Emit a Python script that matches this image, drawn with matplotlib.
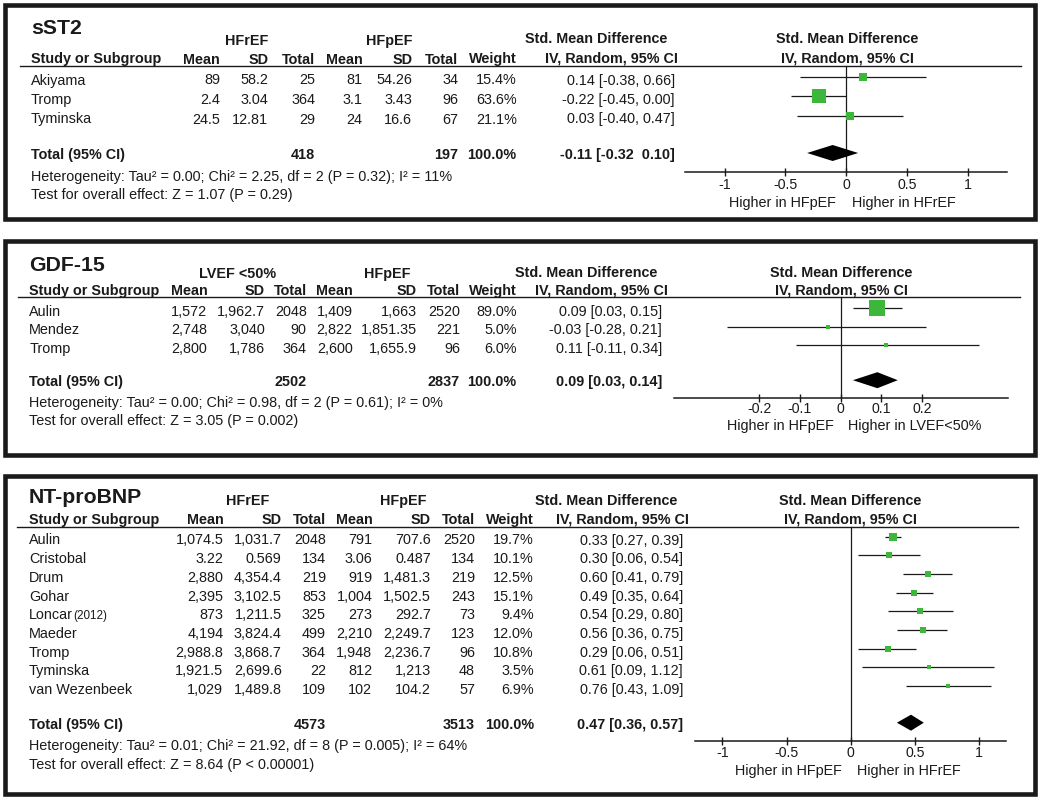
import numpy as np
import matplotlib
matplotlib.use('Agg')
import matplotlib.pyplot as plt
from matplotlib.patches import Rectangle

plt.rcParams['font.family'] = ['Liberation Sans', 'DejaVu Sans']

# ---------------- data: sST2 ----------------
sst2_studies = ['Akiyama', 'Tromp', 'Tyminska']
sst2_mean1 = ['89', '2.4', '24.5']
sst2_sd1 = ['58.2', '3.04', '12.81']
sst2_n1 = [25, 364, 29]
sst2_mean2 = ['81', '3.1', '24']
sst2_sd2 = ['54.26', '3.43', '16.6']
sst2_n2 = [34, 96, 67]
sst2_weight = [15.4, 63.6, 21.1]
sst2_smd = [0.14, -0.22, 0.03]
sst2_lo = [-0.38, -0.45, -0.40]
sst2_hi = [0.66, 0.00, 0.47]
sst2_total = (418, 197, -0.11, -0.32, 0.10)
sst2_total_fmt = '{:.2f} [{:.2f}  {:.2f}]'
sst2_groups = ['HFrEF', 'HFpEF']
sst2_favours = ['Higher in HFpEF', 'Higher in HFrEF']
sst2_het = 'Heterogeneity: Tau² = 0.00; Chi² = 2.25, df = 2 (P = 0.32); I² = 11%'
sst2_test = 'Test for overall effect: Z = 1.07 (P = 0.29)'
sst2_ticks = [-1, -0.5, 0, 0.5, 1]
sst2_ticklabels = ['-1', '-0.5', '0', '0.5', '1']

# ---------------- data: GDF-15 ----------------
gdf_studies = ['Aulin', 'Mendez', 'Tromp']
gdf_mean1 = ['1,572', '2,748', '2,800']
gdf_sd1 = ['1,962.7', '3,040', '1,786']
gdf_n1 = [2048, 90, 364]
gdf_mean2 = ['1,409', '2,822', '2,600']
gdf_sd2 = ['1,663', '1,851.35', '1,655.9']
gdf_n2 = [2520, 221, 96]
gdf_weight = [89.0, 5.0, 6.0]
gdf_smd = [0.09, -0.03, 0.11]
gdf_lo = [0.03, -0.28, -0.11]
gdf_hi = [0.15, 0.21, 0.34]
gdf_total = (2502, 2837, 0.09, 0.03, 0.14)
gdf_total_fmt = '{:.2f} [{:.2f}, {:.2f}]'
gdf_groups = ['LVEF <50%', 'HFpEF']
gdf_favours = ['Higher in HFpEF', 'Higher in LVEF<50%']
gdf_het = 'Heterogeneity: Tau² = 0.00; Chi² = 0.98, df = 2 (P = 0.61); I² = 0%'
gdf_test = 'Test for overall effect: Z = 3.05 (P = 0.002)'
gdf_ticks = [-0.2, -0.1, 0, 0.1, 0.2]
gdf_ticklabels = ['-0.2', '-0.1', '0', '0.1', '0.2']

# ---------------- data: NT-proBNP ----------------
nt_studies = ['Aulin', 'Cristobal', 'Drum', 'Gohar', 'Loncar', 'Maeder',
              'Tromp', 'Tyminska', 'van Wezenbeek']
nt_notes = {'Loncar': '(2012)'}
nt_mean1 = ['1,074.5', '3.22', '2,880', '2,395', '873', '4,194', '2,988.8', '1,921.5', '1,029']
nt_sd1 = ['1,031.7', '0.569', '4,354.4', '3,102.5', '1,211.5', '3,824.4', '3,868.7', '2,699.6', '1,489.8']
nt_n1 = [2048, 134, 219, 853, 325, 499, 364, 22, 109]
nt_mean2 = ['791', '3.06', '919', '1,004', '273', '2,210', '1,948', '812', '102']
nt_sd2 = ['707.6', '0.487', '1,481.3', '1,502.5', '292.7', '2,249.7', '2,236.7', '1,213', '104.2']
nt_n2 = [2520, 134, 219, 243, 73, 123, 96, 48, 57]
nt_weight = [19.7, 10.1, 12.5, 15.1, 9.4, 12.0, 10.8, 3.5, 6.9]
nt_smd = [0.33, 0.30, 0.60, 0.49, 0.54, 0.56, 0.29, 0.61, 0.76]
nt_lo = [0.27, 0.06, 0.41, 0.35, 0.29, 0.36, 0.06, 0.09, 0.43]
nt_hi = [0.39, 0.54, 0.79, 0.64, 0.80, 0.75, 0.51, 1.12, 1.09]
nt_total = (4573, 3513, 0.47, 0.36, 0.57)
nt_total_fmt = '{:.2f} [{:.2f}, {:.2f}]'
nt_groups = ['HFrEF', 'HFpEF']
nt_favours = ['Higher in HFpEF', 'Higher in HFrEF']
nt_het = 'Heterogeneity: Tau² = 0.01; Chi² = 21.92, df = 8 (P = 0.005); I² = 64%'
nt_test = 'Test for overall effect: Z = 8.64 (P < 0.00001)'
nt_ticks = [-1, -0.5, 0, 0.5, 1]
nt_ticklabels = ['-1', '-0.5', '0', '0.5', '1']

col_heads = ['Mean', 'SD', 'Total', 'Mean', 'SD', 'Total', 'Weight']

INK = '#1a1a1a'
GREEN = '#3cb73c'
FS = 10.4
W, H = 1040, 800

fig = plt.figure(figsize=(W / 100, H / 100), dpi=100)
bg = fig.add_axes([0, 0, 1, 1])
bg.set_xlim(0, W)
bg.set_ylim(H, 0)
bg.axis('off')


def put(x, y, s, ha='left', bold=False, size=FS):
    # y is the visual middle of capitals, converted to baseline
    return bg.text(x, y + 0.5 * size, s, ha=ha, va='baseline', fontsize=size,
                   fontweight='bold' if bold else 'normal', color=INK)


def draw_panel(title, studies, mean1, sd1, n1, mean2, sd2, n2, weight, smd, lo, hi,
               total, total_fmt, groups, favours, het, test, ticks, ticklabels, lay, notes=None):
    x0, y0, x1, y1 = lay['frame']
    bg.add_patch(Rectangle((x0, y0), x1 - x0, y1 - y0, fill=False, lw=3.3, ec=INK))

    bg.text(lay['name_x'], lay['title_base'], title, fontsize=15.3, fontweight='bold',
            va='baseline', color=INK)
    put(lay['group_x'][0], lay['group_y'], groups[0], ha='center', bold=True)
    put(lay['group_x'][1], lay['group_y'], groups[1], ha='center', bold=True)
    put(lay['name_x'], lay['head_y'], 'Study or Subgroup', bold=True)
    for cx, h in zip(lay['cols'], col_heads):
        put(cx, lay['head_y'], h, ha='right', bold=True)
    put(lay['smdh1'][0], lay['smdh1'][1], 'Std. Mean Difference', ha='right', bold=True)
    put(lay['smdh2'][0], lay['smdh2'][1], 'IV, Random, 95% CI', ha='right', bold=True)
    put(lay['fhead_x'], lay['smdh1'][1], 'Std. Mean Difference', ha='center', bold=True)
    put(lay['fhead_x'], lay['smdh2'][1], 'IV, Random, 95% CI', ha='center', bold=True)
    bg.plot(lay['line_x'], [lay['line_y'], lay['line_y']], color=INK, lw=1.0)

    rows_y = lay['row0'] + lay['dy'] * np.arange(len(studies))
    for i, name in enumerate(studies):
        y = rows_y[i]
        t = put(lay['name_x'], y, name)
        if notes and name in notes:
            bg.annotate(notes[name], xy=(1, 0), xycoords=t, va='bottom', ha='left',
                        fontsize=8.4, color=INK)
        vals = [mean1[i], sd1[i], str(n1[i]), mean2[i], sd2[i], str(n2[i]),
                '{:.1f}%'.format(weight[i])]
        for cx, v in zip(lay['cols'], vals):
            put(cx, y, v, ha='right')
        put(lay['smd_x'], y, '{:.2f} [{:.2f}, {:.2f}]'.format(smd[i], lo[i], hi[i]), ha='right')

    tn1, tn2, tsmd, tlo, thi = total
    ty = lay['total_y']
    put(lay['name_x'], ty, 'Total (95% CI)', bold=True)
    put(lay['cols'][2], ty, str(tn1), ha='right', bold=True)
    put(lay['cols'][5], ty, str(tn2), ha='right', bold=True)
    put(lay['cols'][6], ty, '100.0%', ha='right', bold=True)
    put(lay['smd_x'], ty, total_fmt.format(tsmd, tlo, thi), ha='right', bold=True)
    put(lay['name_x'], lay['het_y'], het)
    put(lay['name_x'], lay['test_y'], test)

    # forest plot: x in SMD units, y in figure pixels
    zero, unit = lay['zero'], lay['unit']
    xl, xr = lay['xlim']
    top, ax_y = lay['line_y'], lay['axis_y']
    ax = fig.add_axes([(zero + xl * unit) / W, 1 - ax_y / H,
                       (xr - xl) * unit / W, (ax_y - top) / H])
    ax.set_xlim(xl, xr)
    ax.set_ylim(ax_y, top)
    ax.patch.set_visible(False)
    for s in ['top', 'left', 'right']:
        ax.spines[s].set_visible(False)
    ax.spines['bottom'].set_linewidth(1.1)
    ax.spines['bottom'].set_color(INK)
    ax.set_yticks([])
    ax.set_xticks(ticks)
    ax.set_xticklabels(ticklabels)
    ax.tick_params(axis='x', direction='inout', length=5.4, width=1.0, color=INK,
                   labelcolor=INK, labelsize=10.2, pad=lay['tick_pad'])
    ax.axvline(0, color=INK, lw=0.9, clip_on=False)

    my = rows_y - 2.7
    ax.hlines(my, lo, hi, color=INK, lw=0.9, clip_on=False)
    for xv, yv, wv in zip(smd, my, weight):
        ax.plot(xv, yv, 's', ms=1.8 * np.sqrt(wv) * 0.72, mew=0, color=GREEN,
                clip_on=False, zorder=3)
    dy = ty - 1
    ax.fill([tlo, tsmd, thi, tsmd], [dy, dy - 8, dy, dy + 8], color='black', lw=0,
            clip_on=False, zorder=3)

    hb = lay['higher_y'] + 0.5 * FS
    ax.annotate(favours[0], xy=(0, hb), xytext=(-lay['higher_off'][0], 0),
                textcoords='offset pixels', ha='right', va='baseline', fontsize=FS,
                color=INK, annotation_clip=False)
    ax.annotate(favours[1], xy=(0, hb), xytext=(lay['higher_off'][1], 0),
                textcoords='offset pixels', ha='left', va='baseline', fontsize=FS,
                color=INK, annotation_clip=False)


sst2_lay = dict(frame=(4.5, 4.5, 1034.5, 219), title_base=34.3, group_y=40,
                group_x=(246.7, 389), head_y=58.3, line_y=65.7, line_x=(20, 1020.7),
                name_x=31, cols=[220, 268.3, 315, 362.3, 412.3, 458.3, 516.7],
                smd_x=675, smdh1=(667, 37.7), smdh2=(678, 57.7), row0=79.3, dy=19.5,
                total_y=154, het_y=175.7, test_y=194.3, zero=846, unit=121.5,
                xlim=(-1.325, 1.325), axis_y=172.3, fhead_x=847, higher_y=202,
                higher_off=(10, 6), tick_pad=1.4)
gdf_lay = dict(frame=(4.5, 240.5, 1034.5, 455), title_base=270.7, group_y=272.7,
               group_x=(237.5, 387), head_y=290, line_y=296.8, line_x=(18, 1020),
               name_x=29.3, cols=[207.3, 265, 306.7, 352.7, 416.7, 460, 516.7],
               smd_x=662, smdh1=(657.7, 271.7), smdh2=(667.7, 289.3), row0=311, dy=18.2,
               total_y=381.2, het_y=402.3, test_y=420, zero=840.7, unit=407.5,
               xlim=(-0.41, 0.41), axis_y=397.7, fhead_x=841, higher_y=425,
               higher_off=(6.4, 7.6), tick_pad=0.4)
nt_lay = dict(frame=(4.5, 476, 1034.5, 793.5), title_base=503.3, group_y=500,
              group_x=(248, 403.7), head_y=519, line_y=526.5, line_x=(16.7, 1018),
              name_x=29, cols=[223.3, 281.7, 326, 372.3, 431, 475, 534],
              smd_x=683, smdh1=(677.7, 500), smdh2=(689, 518.7), row0=539.3, dy=18.67,
              total_y=723.7, het_y=745, test_y=763.3, zero=850.7, unit=128.3,
              xlim=(-1.21, 1.21), axis_y=741, fhead_x=850, higher_y=770,
              higher_off=(8.4, 6.6), tick_pad=1.0)

draw_panel('sST2', sst2_studies, sst2_mean1, sst2_sd1, sst2_n1, sst2_mean2, sst2_sd2,
           sst2_n2, sst2_weight, sst2_smd, sst2_lo, sst2_hi, sst2_total, sst2_total_fmt,
           sst2_groups, sst2_favours, sst2_het, sst2_test, sst2_ticks, sst2_ticklabels,
           sst2_lay)
draw_panel('GDF-15', gdf_studies, gdf_mean1, gdf_sd1, gdf_n1, gdf_mean2, gdf_sd2,
           gdf_n2, gdf_weight, gdf_smd, gdf_lo, gdf_hi, gdf_total, gdf_total_fmt,
           gdf_groups, gdf_favours, gdf_het, gdf_test, gdf_ticks, gdf_ticklabels, gdf_lay)
draw_panel('NT-proBNP', nt_studies, nt_mean1, nt_sd1, nt_n1, nt_mean2, nt_sd2,
           nt_n2, nt_weight, nt_smd, nt_lo, nt_hi, nt_total, nt_total_fmt,
           nt_groups, nt_favours, nt_het, nt_test, nt_ticks, nt_ticklabels, nt_lay,
           notes=nt_notes)

fig.savefig('out.png', dpi=100)
